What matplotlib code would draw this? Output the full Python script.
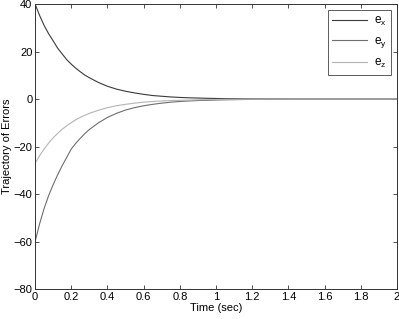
import numpy as np
import matplotlib
matplotlib.use("Agg")
import matplotlib.pyplot as plt

plt.rcParams["font.family"] = ["Liberation Sans", "DejaVu Sans"]
plt.rcParams["mathtext.fontset"] = "custom"
plt.rcParams["mathtext.rm"] = "Liberation Sans"

# ----------------------------
# Data
# ----------------------------
t = [0.0, 0.025, 0.05, 0.075, 0.1, 0.125, 0.15, 0.175, 0.2, 0.225, 0.25, 0.275,
     0.3, 0.35, 0.4, 0.45, 0.5, 0.55, 0.6, 0.65, 0.7, 0.75, 0.8, 0.85, 0.9,
     0.95, 1.0, 1.05, 1.2, 1.5, 2.0]
e_x = [40, 35.2, 31, 27.5, 24.5, 21.4, 19, 16.6, 14.7, 13, 11.5, 10.1,
       9, 7, 5.4, 4.2, 3.3, 2.6, 2, 1.5, 1.2, 0.9, 0.7, 0.55, 0.45,
       0.35, 0.27, 0.2, 0.1, 0, 0]
e_y = [-60, -52.5, -46, -40.6, -36, -31.8, -28, -24.5, -21, -18.6, -16.5, -14.5,
       -12.8, -10, -7.7, -6, -4.6, -3.6, -2.8, -2.2, -1.7, -1.3, -1, -0.8, -0.6,
       -0.5, -0.4, -0.3, -0.1, 0, 0]
e_z = [-27, -23.8, -21, -18.5, -16.3, -14.4, -12.7, -11.2, -9.9, -8.7, -7.7, -6.8,
       -6, -4.7, -3.6, -2.8, -2.2, -1.7, -1.3, -1, -0.8, -0.6, -0.5, -0.4, -0.3,
       -0.2, -0.15, -0.1, 0, 0, 0]

x_ticks = [0, 0.2, 0.4, 0.6, 0.8, 1, 1.2, 1.4, 1.6, 1.8, 2]
x_labels = ["0", "0.2", "0.4", "0.6", "0.8", "1", "1.2", "1.4", "1.6", "1.8", "2"]
y_ticks = [-80, -60, -40, -20, 0, 20, 40]

# ----------------------------
# Plot
# ----------------------------
fig = plt.figure(figsize=(3.99, 3.19), dpi=100)
ax = fig.add_axes([0.088, 0.094, 0.907, 0.893])

ax.plot(t, e_x, color="#3a3a3a", linewidth=0.8, label="$\\mathregular{e_x}$")
ax.plot(t, e_y, color="#6e6e6e", linewidth=0.8, label="$\\mathregular{e_y}$")
ax.plot(t, e_z, color="#b4b4b4", linewidth=0.8, label="$\\mathregular{e_z}$")

ax.set_xlim(0, 2)
ax.set_ylim(-80, 40)
ax.set_xticks(x_ticks)
ax.set_xticklabels(x_labels)
ax.set_yticks(y_ticks)
ax.tick_params(direction="in", top=True, right=True, length=3, width=0.6,
               labelsize=8, pad=2, color="#333333")
for s in ax.spines.values():
    s.set_linewidth(0.7)
    s.set_color("#333333")

ax.set_xlabel("Time (sec)", fontsize=8, labelpad=1)
ax.set_ylabel("Trajectory of Errors", fontsize=8, labelpad=1)

leg = ax.legend(loc="upper right", fontsize=8.5, frameon=True, fancybox=False,
                edgecolor="#333333", handlelength=2.9, handletextpad=0.6,
                borderpad=0.4, labelspacing=0.6, borderaxespad=0.5)
leg.get_frame().set_linewidth(0.7)

fig.savefig("out.png", dpi=100)
